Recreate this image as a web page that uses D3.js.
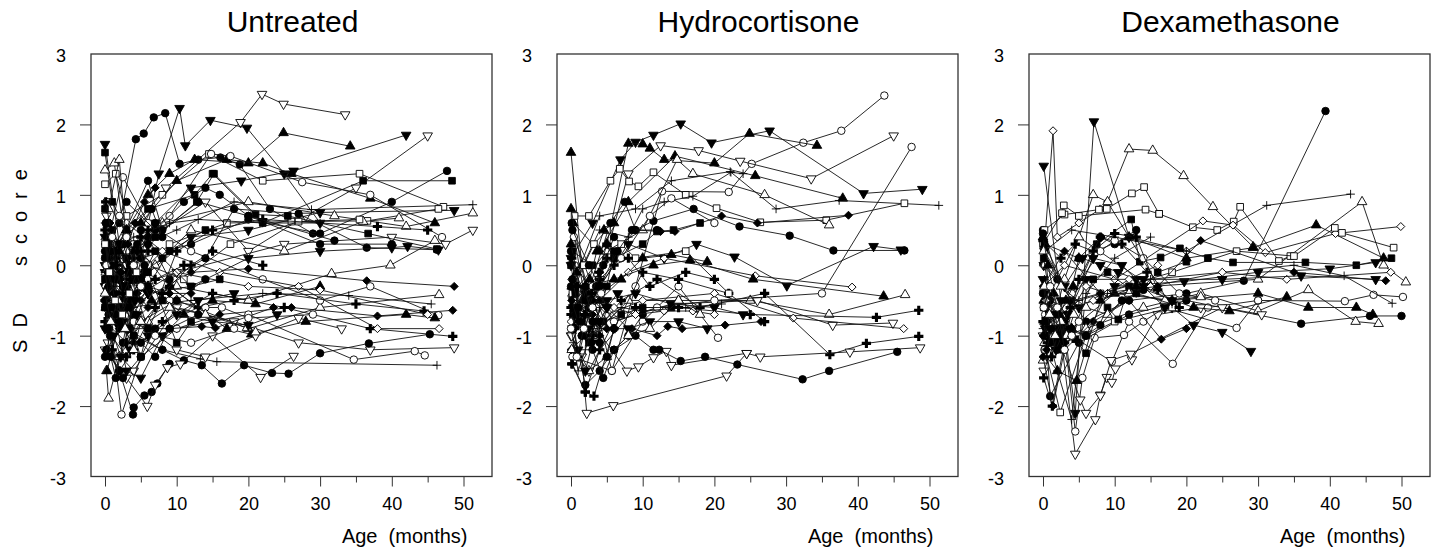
<!DOCTYPE html>
<html>
<head>
<meta charset="utf-8">
<script src="https://cdn.jsdelivr.net/npm/d3@7"></script>
<style>
  body { margin: 0; background: #fff; }
  svg text { font-family: "Liberation Sans", Arial, sans-serif; fill: #000; }
</style>
</head>
<body>
<div id="chart"></div>
<script>
// Titles and tick labels
var panelTitles = ["Untreated", "Hydrocortisone", "Dexamethasone"];
var yTickValues = [3, 2, 1, 0, -1, -2, -3];
var xMajorTicks = [0, 10, 20, 30, 40, 50];
var xMinorTicks = [5, 15, 25, 35, 45];

// One entry per child: marker shape and visits [age (months), SD score]
// shapes: sq/sqf square, ci/cif circle, tu/tuf triangle up, td/tdf triangle down,
//         di/dif diamond, pl thin plus, plb bold plus (f = filled)
var untreated = [
    { shape: "td", pts: [[0.2,-0.3],[3,0.4],[8.5,1.1],[18.9,2.03],[21.9,2.43],[24.9,2.29],[33.5,2.14]] },
    { shape: "tdf", pts: [[0,1.72],[2,0.3],[4,-0.4],[7.5,1.3],[10.4,2.23],[11.2,1.7],[14.7,2.06],[19.8,1.95],[25,1.3],[30,0.6]] },
    { shape: "cif", pts: [[0,0.2],[2,0.6],[4.3,1.79],[5.4,1.87],[6.8,2.1],[8.4,2.16],[10.4,1.44],[13,1.5],[16.1,1.53],[18.8,1.43],[23,0.8],[29,0.45]] },
    { shape: "tuf", pts: [[0.5,0.1],[3,0.5],[6,1.0],[9,1.3],[12.5,1.5],[20,1.45],[24.9,1.88],[34.2,1.69]] },
    { shape: "tdf", pts: [[0,-0.3],[3,0.1],[7,0.6],[12,1.1],[19,1.2],[26.3,1.34],[42,1.85]] },
    { shape: "td", pts: [[0.5,0.4],[4,0.0],[8,0.5],[14,0.9],[20,0.2],[28,0.7],[35,1.1],[45,1.84]] },
    { shape: "sqf", pts: [[0,1.6],[1,0.9],[3,0.5],[6,0.8],[12.5,1.0],[15,1.3],[22,0.6],[36,1.2],[48.4,1.2]] },
    { shape: "cif", pts: [[0.3,-0.4],[5,0.1],[12,0.3],[20,0.65],[30,0.45],[40,0.9],[47.7,1.34]] },
    { shape: "pl", pts: [[0,0.6],[3,0.2],[10,0.5],[18,0.9],[28.8,0.79],[51.3,0.86]] },
    { shape: "tdf", pts: [[0.3,-0.6],[5,-0.2],[12,0.4],[20,0.5],[30,0.75],[48.7,0.78]] },
    { shape: "tu", pts: [[0,1.35],[1.3,1.45],[3,0.2],[8,0.6],[20,0.9],[32,0.7],[42,0.55],[51.3,0.74]] },
    { shape: "td", pts: [[0.2,0.1],[4,-0.3],[10,-0.1],[25,0.3],[40,0.4],[47.5,0.3],[51.3,0.5]] },
    { shape: "sq", pts: [[0,1.15],[1.5,1.3],[3,0.7],[8,1.0],[14.5,1.58],[22,1.2],[35.5,1.3],[47.2,0.83]] },
    { shape: "sq", pts: [[0.5,0.2],[4,-0.2],[9,0.3],[17,0.6],[26,0.62],[36.6,0.63],[46.5,0.8]] },
    { shape: "dif", pts: [[0.3,-0.2],[5,-0.5],[12,-0.1],[20,-0.05],[36.5,-0.22],[48.7,-0.3]] },
    { shape: "dif", pts: [[0,-0.6],[4,-1.1],[10,-0.9],[16,-0.7],[26,-0.6],[38,-0.72],[48.5,-0.64]] },
    { shape: "plb", pts: [[0.2,-0.9],[3,-1.3],[8,-0.8],[15,-0.4],[25,-0.6],[37,-0.9],[48.5,-1.01]] },
    { shape: "td", pts: [[0.4,-1.1],[4,-1.5],[10,-0.6],[18,-0.8],[27,-1.1],[37,-1.2],[48.7,-1.17]] },
    { shape: "pl", pts: [[0,-0.4],[3,-0.9],[8,-1.2],[13.3,-1.33],[15.6,-1.37],[46.3,-1.42]] },
    { shape: "cif", pts: [[0.5,-0.7],[4,-1.0],[8,-1.2],[11,-1.35],[13.5,-1.42],[16.3,-1.68],[19.4,-1.42],[23.3,-1.53],[25.6,-1.54],[30,-1.25],[36.8,-1.11],[45.3,-0.98]] },
    { shape: "ci", pts: [[0.1,-0.3],[2.3,-2.12],[5,-1.3],[10,-0.9],[20,-0.7],[34.7,-1.34],[43.2,-1.22],[44.6,-1.28]] },
    { shape: "cif", pts: [[0.5,-0.9],[2,-1.5],[3.9,-2.12],[4,-2.02],[5.5,-1.85],[6.5,-1.8],[7.3,-1.68],[9,-1.4]] },
    { shape: "td", pts: [[0,-1.2],[3,-1.6],[5.9,-2.0],[7,-1.7],[8.7,-1.45],[10.5,-1.4],[15,-1.0],[21.7,-1.59],[26.3,-1.29]] },
    { shape: "tu", pts: [[0.2,-1.5],[0.5,-1.89],[2,-1.3],[5,-0.8],[10,-0.5],[20,-0.9],[30,-0.6],[46.6,-0.42]] },
    { shape: "tu", pts: [[0.1,0.4],[3,0.0],[10,-0.3],[20,-0.5],[31.6,-0.12],[39.8,0.0],[46,0.35]] },
    { shape: "ci", pts: [[0.3,0.3],[2.5,1.25],[6,0.6],[12,0.2],[22,-0.2],[30,-0.5],[37,-0.3],[46.5,-0.71]] },
    { shape: "di", pts: [[0,0.0],[3,0.6],[8,0.2],[16,-0.1],[27,-0.3],[38,-0.9],[46.6,-0.9]] },
    { shape: "tuf", pts: [[0.4,-0.3],[4,-0.8],[9,-0.3],[17,-0.9],[20.4,-0.98],[28,-0.8],[42,-0.7],[46,-0.75]] },
    { shape: "cif", pts: [[0,-0.5],[2,-0.1],[6,0.4],[9,-0.2],[14,0.1],[18,0.8],[27,0.73],[36.5,0.25],[46.3,0.22]] },
    { shape: "sqf", pts: [[0.2,0.5],[3,0.1],[7,0.4],[12.8,0.9],[15.2,1.3],[21,0.72],[25.5,0.7],[36.7,0.45],[46.3,0.23]] },
    { shape: "tuf", pts: [[0.3,0.2],[5,0.6],[10,1.2],[17,1.5],[22,1.45],[26,1.3],[37,0.95],[46,0.6]] },
    { shape: "ci", pts: [[0.2,0.9],[4,0.3],[9,0.7],[14.8,1.58],[17.5,1.55],[27.5,1.18],[37,1.0],[47,0.4]] },
    { shape: "tdf", pts: [[0,0.0],[6,-0.4],[12,-0.3],[20,0.1],[30,0.2],[40,0.25],[42.2,0.27],[46.5,0.22]] },
    { shape: "tu", pts: [[0.5,0.8],[2,1.5],[3,0.3],[7,0.0],[12,0.5],[25,0.2],[36,0.62],[41,0.67]] },
    { shape: "pl", pts: [[0.1,-0.1],[3,-0.6],[12,-0.5],[22,-0.4],[34,-0.43],[45.5,-0.55]] },
    { shape: "cif", pts: [[0.5,0.4],[3,0.9],[7,0.5],[11,0.9],[14,1.1],[16,1.0],[20,0.7],[30,0.3],[40,0.3]] },
    { shape: "plb", pts: [[0.2,0.3],[2,-0.2],[5,0.2],[9,-0.3],[13,-0.6],[18,-0.5],[24,-0.4],[35,-0.55],[44.5,-0.65]] },
    { shape: "sqf", pts: [[0,0.8],[1,0.5],[3,-0.3],[6,-0.1],[10,-1.1],[12,-0.8]] },
    { shape: "dif", pts: [[0.3,-0.4],[2,-0.9],[6,-0.9],[9,-0.9],[13.5,-0.87],[15.4,-0.89],[23.5,-0.6]] },
    { shape: "tdf", pts: [[0,-0.1],[1.5,-0.8],[3,-1.5],[5,-1.6],[8,-1.0],[13,-0.5],[18,-0.4]] },
    { shape: "ci", pts: [[0.4,-0.6],[4,-0.2],[9,-0.5],[14,-0.6],[16.3,-0.6],[20,-0.75],[29,-0.7]] },
    { shape: "td", pts: [[0.2,0.7],[3,0.0],[6,-0.9],[10,-1.2],[14,-1.3],[21,-1.0],[27,-0.75],[33,-0.9]] },
    { shape: "sq", pts: [[0.4,-0.8],[2.5,-0.3],[6,0.0],[11,-0.2],[17.5,0.3],[27,0.62],[35.5,0.65]] },
    { shape: "plb", pts: [[0,-0.8],[3,-1.1],[7,-0.6],[10,0.2],[15,0.5],[22,0.65],[38,0.55],[45,0.5]] },
    { shape: "cif", pts: [[0.1,0.6],[2,0.3],[6,1.2],[8,0.5],[13,0.9],[20,0.7],[32,0.35]] },
    { shape: "tuf", pts: [[0.3,-1.5],[2,-0.8],[6,-0.3],[11,-0.7],[15,-0.5],[21,-0.55],[30,-0.3]] },
    { shape: "pl", pts: [[0.2,0.1],[4,0.4],[9,0.6],[13,0.65],[22,0.6],[30,0.6]] },
    { shape: "di", pts: [[0.5,0.5],[5,-0.4],[10,-0.1],[20,-0.3],[30,-0.35],[45,-0.7]] },
    { shape: "sqf", pts: [[0.1,-0.2],[2,-0.5],[4,-0.2],[8,0.1],[12,-0.3],[16,-0.2]] },
    { shape: "cif", pts: [[0.2,-1.2],[2.5,-1.6],[5,-1.3],[7,-0.9],[10,-0.5],[14,-0.2]] },
    { shape: "tu", pts: [[0.1,-0.1],[3,-0.5],[6,-0.8],[9,-0.6],[14,-0.7],[19.8,-0.89],[21,-0.95]] },
    { shape: "plb", pts: [[0.3,-1.2],[2,-1.5],[4,-1.2],[8,-0.4],[12,0.0],[15,0.2],[22,0.0]] },
    { shape: "tdf", pts: [[0.5,0.1],[3,-0.5],[6,-1.0],[10,-0.7],[15,-0.8],[20,-0.85],[24,-0.7]] },
    { shape: "ci", pts: [[0.2,0.0],[2,-0.2],[4,-0.8],[7,-1.0],[12,-1.1],[18,-0.9]] },
    { shape: "sqf", pts: [[0,-0.6],[2,-0.9],[4,-0.7],[6,-0.3],[9,0.2],[14,0.5]] },
    { shape: "dif", pts: [[0.1,0.2],[1.5,-0.2],[3.5,-0.5],[6,-0.3],[9,-0.4],[12,-0.4]] },
    { shape: "cif", pts: [[0.4,-0.2],[2,-0.5],[3.5,-0.9],[5,-1.1],[7,-1.3],[9,-0.9],[13,-0.7]] },
    { shape: "plb", pts: [[0,0.5],[1.5,0.2],[3,-0.1],[5,-0.3],[7,-0.2],[11,0.0]] },
    { shape: "cif", pts: [[0,0.1],[0.5,-0.3],[1,-0.6],[1.5,-0.2],[2.5,0.3],[3.5,0.0],[5,0.5],[6.5,0.8],[8,0.4]] },
    { shape: "sqf", pts: [[0,-0.2],[0.5,0.3],[1,0.0],[2,-0.6],[3,-0.9],[4,-0.5],[5.5,-0.1],[7,0.2]] },
    { shape: "plb", pts: [[0,-0.5],[0.5,-0.9],[1,-1.2],[2,-0.8],[3,-0.3],[4,0.1],[5,0.4],[6,0.2]] },
    { shape: "tdf", pts: [[0,0.4],[0.5,0.0],[1.5,-0.4],[2.5,-0.8],[3.5,-1.2],[4.5,-0.7],[6,-0.4]] },
    { shape: "cif", pts: [[0.2,-0.9],[0.8,-1.3],[1.5,-1.6],[2.5,-1.1],[3.5,-0.6],[5,-0.2],[6,0.3],[7,0.6]] },
    { shape: "dif", pts: [[0,0.3],[0.7,0.6],[1.5,0.1],[2.5,-0.3],[3.5,-0.1],[4.5,-0.4],[6,-0.6]] },
    { shape: "tuf", pts: [[0.1,-0.6],[1,-0.2],[2,0.2],[3,0.5],[4,0.2],[5,-0.2],[6.5,-0.5]] },
    { shape: "pl", pts: [[0,-0.1],[0.6,-0.5],[1.2,-0.3],[2,0.1],[3,-0.2],[4,-0.6],[5,-0.3]] },
    { shape: "sqf", pts: [[0.3,0.6],[1,0.2],[2,-0.2],[3,-0.6],[4,-1.0],[5,-1.3],[6,-0.9],[8,-0.5]] },
    { shape: "cif", pts: [[0,-1.3],[0.7,-1.0],[1.5,-0.7],[2.5,-0.3],[3.5,0.0],[4.5,0.3],[5.5,0.0]] },
    { shape: "plb", pts: [[0.1,0.9],[0.8,0.5],[1.6,0.0],[2.5,-0.4],[3.5,-0.2],[4.5,0.2],[6,0.5]] },
    { shape: "tdf", pts: [[0,-0.9],[0.5,-0.6],[1.2,-1.0],[2.2,-1.3],[3.2,-0.9],[4.2,-0.5],[5.5,-0.3]] },
    { shape: "ci", pts: [[0.2,0.0],[1,0.4],[2,0.7],[3,0.4],[4,0.0],[5,-0.3]] },
    { shape: "tu", pts: [[0,-0.4],[0.8,-0.8],[1.8,-0.5],[2.8,-0.9],[4,-1.2],[5,-0.8]] },
    { shape: "dif", pts: [[0.3,-0.1],[1.2,-0.4],[2.2,-0.1],[3.2,0.3],[4.2,0.6],[5.5,0.9],[7,1.1]] },
    { shape: "sq", pts: [[0,0.3],[0.6,-0.1],[1.4,-0.5],[2.4,-0.7],[3.4,-0.4],[4.4,-0.1]] }
];

var hydrocortisone = [
    { shape: "ci", pts: [[0.5,-0.8],[3,-0.4],[5.7,-1.5],[9,-0.3],[12.7,1.05],[22,1.04],[25.2,1.44],[32.4,1.74],[37.7,1.91],[43.7,2.41]] },
    { shape: "td", pts: [[0.3,-0.5],[4,-0.2],[8,1.3],[12.5,1.7],[17.8,1.63],[23.6,1.48],[33.5,1.23],[45,1.84]] },
    { shape: "tdf", pts: [[0,0.1],[3,0.6],[6.9,1.5],[9,1.75],[11.5,1.85],[15.3,2.01],[19.6,1.74],[27.7,1.91],[40.8,1.02],[49,1.08]] },
    { shape: "tuf", pts: [[0,1.6],[1.5,0.0],[3,-0.6],[5,0.3],[8,1.73],[10,1.72],[11,1.66],[13,1.5],[20,1.45],[24.9,1.87],[34.3,1.7]] },
    { shape: "tuf", pts: [[0.3,0.6],[4,0.2],[8,0.9],[14.5,1.55],[25.7,1.27],[37.9,0.95]] },
    { shape: "pl", pts: [[0.2,-0.3],[4,0.7],[9,0.8],[14,1.2],[22.2,1.33],[28.6,0.8],[37.4,0.92],[51.3,0.85]] },
    { shape: "sq", pts: [[0.5,0.7],[2.5,0.7],[5.5,1.2],[6.8,1.37],[8.1,1.19],[9.4,1.12],[11.5,1.32],[16,1.0],[20.3,0.81],[26.4,0.61],[35.6,0.64],[46.5,0.88]] },
    { shape: "cif", pts: [[0.1,0.6],[2,-0.5],[5.5,0.6],[7.5,0.9],[9,0.5],[11.5,0.63],[17.1,0.8],[23.5,0.55],[30.5,0.42],[36.6,0.21],[46.5,0.21]] },
    { shape: "tdf", pts: [[0.5,-0.9],[4,-0.3],[8,0.3],[13,0.1],[17.5,0.3],[22.8,0.12],[30.1,-0.29],[42.2,0.27],[46,0.22]] },
    { shape: "tu", pts: [[0.2,-0.4],[5,0.2],[10,0.5],[14.8,1.5],[17,1.3],[27,1.0],[36,0.57]] },
    { shape: "dif", pts: [[0.3,-0.6],[4,-0.1],[9,0.5],[12.5,0.48],[14.5,0.48],[21,0.7],[26,0.6],[38.7,0.71]] },
    { shape: "di", pts: [[0.1,-0.2],[3,-0.5],[8,-0.1],[13,0.1],[25.7,-0.15],[39.2,-0.31]] },
    { shape: "tuf", pts: [[0,0.8],[2,-0.3],[6,-0.2],[11.5,0.0],[16.6,0.07],[25.4,-0.2],[43.6,-0.44]] },
    { shape: "tu", pts: [[0.4,-0.7],[3,-1.0],[8,-0.5],[15,-0.5],[25,-0.5],[36,-0.7],[46.6,-0.42]] },
    { shape: "plb", pts: [[0.2,-1.4],[2,-1.8],[4,-1.2],[9,-0.6],[15,-0.6],[25,-0.7],[42.6,-0.74],[48.5,-0.64]] },
    { shape: "td", pts: [[0,-1.0],[2.5,-1.5],[6,-0.8],[14,-0.55],[26,-0.5],[36.5,-0.85],[44.9,-0.82]] },
    { shape: "di", pts: [[0.3,-0.2],[5,-0.7],[10,-0.5],[20,-0.4],[31,-0.75],[46.4,-0.9]] },
    { shape: "plb", pts: [[0,-0.7],[3,-1.0],[7,-0.5],[12,-0.2],[18,-0.6],[27,-0.4],[36.1,-1.27],[41.2,-1.11],[48.5,-1.01]] },
    { shape: "td", pts: [[0.4,-0.5],[3.5,-0.9],[7.8,-1.5],[9.4,-1.44],[11.5,-1.31],[13.3,-1.22],[14,-1.42],[24.5,-1.25],[26.4,-1.3],[38.9,-1.23],[48.7,-1.17]] },
    { shape: "cif", pts: [[0.3,-0.9],[2,-1.7],[4,-1.5],[6,-1.2],[9,-1.0],[11.5,-1.2],[12.3,-1.2],[15.3,-1.36],[18.7,-1.3],[23.2,-1.41],[32.3,-1.62],[36,-1.5],[45.5,-1.23]] },
    { shape: "td", pts: [[0.1,-1.0],[1.5,-1.3],[2.2,-2.1],[5.9,-1.99],[21.7,-1.57],[24.5,-1.25]] },
    { shape: "ci", pts: [[0.2,-1.3],[5.7,-1.5],[10,-0.8],[15,-0.3],[20.5,-1.03]] },
    { shape: "ci", pts: [[0.5,0.0],[6,-0.8],[12,-0.6],[20,-0.5],[35,-0.4],[47.5,1.68]] },
    { shape: "plb", pts: [[0.1,-1.4],[2,-1.8],[3.2,-1.86],[6,-0.9],[10,-0.1],[15,-0.2],[22,-0.4],[27,-0.8]] },
    { shape: "pl", pts: [[0.3,-0.3],[4,0.5],[8,0.4],[10,0.8],[13,0.9],[17,0.98],[22.3,1.32],[24,1.3]] },
    { shape: "sqf", pts: [[0.2,0.2],[3,0.0],[6,0.1],[10,0.3],[12,0.48],[14.3,0.5],[18,0.6]] },
    { shape: "ci", pts: [[0.4,0.4],[3,-0.3],[7,0.1],[11,0.7],[14,0.95],[20,0.6]] },
    { shape: "dif", pts: [[0,-1.2],[2,-1.0],[5,-0.9],[8.5,-0.9],[12,-1.0],[13.5,-0.87],[15.5,-0.9],[21.5,-0.85],[26.5,-0.8]] },
    { shape: "tdf", pts: [[0.3,-0.6],[2.5,-0.9],[5,-0.5],[9,-0.4],[14,-0.55],[20,-0.6],[24,-0.7]] },
    { shape: "cif", pts: [[0,0.2],[1.5,-1.0],[3,-1.2],[4.5,-1.6],[6,-1.2],[8,-1.0],[10,-0.7]] },
    { shape: "sq", pts: [[0.2,-0.4],[1.8,0.0],[3.2,0.3],[5,0.5],[7,0.3],[9,0.1],[16,0.2],[22,-0.4]] },
    { shape: "plb", pts: [[0.4,-0.8],[2.5,-0.6],[4,-0.3],[6,0.0],[8,0.1],[11,-0.3],[16,-0.1],[20,-0.2]] },
    { shape: "tuf", pts: [[0.1,-0.3],[2,-0.7],[4,-0.5],[7,-0.2],[10,0.1],[14,0.15],[19,0.05]] },
    { shape: "cif", pts: [[0.2,0.5],[2.5,0.0],[4,-0.3],[6.5,0.2],[8.5,0.5],[12,0.5]] },
    { shape: "di", pts: [[0,-0.8],[3,-0.4],[6,-0.6],[9,-0.7],[13,-0.65],[17,-0.65],[20,-0.7]] },
    { shape: "pl", pts: [[0.3,-0.5],[2,-0.7],[4,-0.9],[7,-0.6],[10,-0.65],[16,-0.6],[21,-0.55]] },
    { shape: "tdf", pts: [[0,0.0],[2,-0.4],[5,-0.6],[8,-0.9],[11,-0.8],[15,-0.8],[19,-0.9]] },
    { shape: "sqf", pts: [[0.5,-0.3],[2.5,-0.5],[4.5,-0.8],[7,-0.7],[10,-0.6],[14,-0.6]] },
    { shape: "tu", pts: [[0.1,-1.2],[2.5,-1.5],[5,-1.3],[8,-1.0],[11,-0.9],[15,-0.5],[18,-0.7]] },
    { shape: "plb", pts: [[0,-0.6],[0.5,-0.9],[1,-1.3],[2,-0.9],[3,-0.5],[4,-0.2],[5,0.1]] },
    { shape: "cif", pts: [[0,-0.3],[0.7,-0.7],[1.5,-1.0],[2.5,-0.6],[3.5,-0.3],[4.5,0.0],[6,0.4]] },
    { shape: "tdf", pts: [[0.2,-0.9],[1,-1.2],[2,-1.5],[3,-1.1],[4,-0.8],[5,-0.6],[6.5,-0.4]] },
    { shape: "sqf", pts: [[0,0.0],[0.6,-0.4],[1.5,-0.8],[2.5,-1.1],[3.5,-0.8],[5,-0.3],[6,0.2]] },
    { shape: "dif", pts: [[0.1,-0.5],[1,-0.8],[2,-0.4],[3,-0.7],[4,-1.0],[5,-0.6]] },
    { shape: "tuf", pts: [[0,0.3],[0.8,-0.1],[1.6,-0.5],[2.6,-0.2],[3.6,0.2],[4.6,0.5],[6,0.6]] },
    { shape: "pl", pts: [[0.3,-1.1],[1,-1.5],[2,-1.2],[3,-0.9],[4,-0.6],[5,-0.9]] },
    { shape: "cif", pts: [[0.2,-0.2],[1,-0.6],[2,-0.3],[3,-0.8],[4,-1.1],[5,-1.3],[6,-0.9]] },
    { shape: "ci", pts: [[0,-0.9],[0.8,-1.3],[1.8,-0.9],[3,-0.6],[4.2,-0.4]] },
    { shape: "plb", pts: [[0.1,0.1],[0.9,-0.3],[1.9,-0.7],[2.9,-0.4],[3.9,-0.1],[5,0.3]] }
];

var dexamethasone = [
    { shape: "cif", pts: [[0,0.5],[2,-0.2],[6,-0.8],[12,-0.5],[20,-0.4],[28,-0.22],[39.4,2.19]] },
    { shape: "tdf", pts: [[0.1,1.41],[2.5,-0.5],[4.5,-2.1],[7.1,2.04],[12,0.4],[18,-0.6],[21,-0.85],[25,-0.95],[29,-1.22]] },
    { shape: "di", pts: [[0,0.0],[1.4,1.91],[2,0.4],[5,0.6],[8,0.8],[9,0.9],[12,0.4],[20,0.2]] },
    { shape: "tu", pts: [[0,-1.35],[3,-0.2],[7,1.0],[9,0.9],[12,1.65],[15.3,1.63],[19.6,1.27],[23.7,0.83],[29.3,0.26]] },
    { shape: "tu", pts: [[0.5,-0.5],[5,0.4],[15,-0.3],[30,-0.2],[44.5,0.9],[47.5,0.0],[50.6,-0.24]] },
    { shape: "sq", pts: [[0.2,0.5],[3,0.72],[7.8,0.79],[8.9,0.8],[12.4,1.02],[14.1,1.11],[16.2,0.73],[20.9,0.54],[24.3,0.5],[26.6,0.62],[27.5,0.83],[32.9,0.06],[34.5,0.13]] },
    { shape: "sq", pts: [[0,0.3],[2.65,0.74],[2.9,0.85],[5,0.7],[14.3,0.79],[16.2,0.73]] },
    { shape: "pl", pts: [[0.2,0.2],[4,0.5],[10,0.4],[20,0.2],[31.2,0.85],[42.9,1.01]] },
    { shape: "tuf", pts: [[0.3,0.3],[5,0.1],[12,0.4],[20,0.1],[29.3,0.25],[38.1,0.57],[47.5,0.1]] },
    { shape: "di", pts: [[0.1,-0.3],[3,0.0],[10,-0.2],[22.3,0.63],[26.5,0.57],[31,0.18],[40.8,0.45],[49.9,0.55]] },
    { shape: "sq", pts: [[0.4,-0.6],[8,-0.4],[18,-0.1],[27,0.2],[35,0.13],[40.7,0.53],[41.7,0.46],[48.9,0.25]] },
    { shape: "sqf", pts: [[0.2,0.3],[4,-0.5],[7.5,0.3],[12.3,0.65],[13.5,0.05],[16.4,0.11],[19.1,0.24],[23,0.1],[26.5,0.04],[36.6,0.04],[43.7,0.0],[48.6,0.1]] },
    { shape: "tdf", pts: [[0.1,0.0],[5,-0.6],[10,-0.3],[19.7,-0.23],[30,-0.1],[40,-0.05],[46.4,0.04]] },
    { shape: "ci", pts: [[0.3,-0.7],[4,-1.0],[9.6,-1.37],[12,-0.8],[18.1,-1.4],[23,-0.6],[30,-0.5],[42.1,-0.51],[46.1,-0.42],[50.2,-0.45]] },
    { shape: "pl", pts: [[0,-0.9],[5,-0.5],[15,-0.2],[25,-0.1],[35,0.0],[42,-0.15],[48.7,-0.54]] },
    { shape: "cif", pts: [[0.5,-1.1],[1,-1.86],[5,-1.1],[12,-0.7],[20,-0.5],[36,-0.83],[45.6,-0.72],[50,-0.72]] },
    { shape: "tu", pts: [[0.2,-1.1],[6,-0.9],[14,-0.6],[22,-0.4],[30,-0.65],[37,-0.35],[43.6,-0.8],[46.8,-0.83]] },
    { shape: "tuf", pts: [[0.1,-0.5],[4,-0.9],[10,-0.4],[18,-0.5],[30,-0.4],[37,-0.6],[43.7,-0.6],[46,-0.7]] },
    { shape: "di", pts: [[0.4,-0.8],[7,-0.5],[15,-0.3],[25,-0.1],[34,-0.2],[48.5,-0.1]] },
    { shape: "dif", pts: [[0,-0.3],[3,0.2],[8,-0.4],[16,-0.3],[22,0.35],[35,-0.1],[47.8,-0.22]] },
    { shape: "tdf", pts: [[0.3,-0.9],[6,-0.2],[14,-0.2],[25,-0.2],[36,-0.15],[46.4,-0.2]] },
    { shape: "td", pts: [[0,-1.0],[2,-0.6],[4.5,-2.68],[7.3,-2.19],[8,-1.84],[8.9,-1.59],[9.6,-1.66],[10.1,-1.47],[12.4,-1.34],[16,-0.7],[22,-0.6]] },
    { shape: "ci", pts: [[0.2,-1.2],[3,-1.0],[4.5,-2.36],[5.5,-1.6],[7.2,-1.03],[11.3,-0.99],[14,-0.8],[17,-0.6],[27,-0.89],[30,-0.5]] },
    { shape: "td", pts: [[0.1,-1.5],[2,-1.0],[5.2,-1.91],[6,-2.1],[8,-1.85],[9.5,-1.35],[12.2,-1.26],[25,-0.6],[30.5,-0.7]] },
    { shape: "sq", pts: [[0.3,-1.2],[2.4,-2.09],[6,-1.0],[10,-0.8],[18,-0.6]] },
    { shape: "dif", pts: [[0,-1.3],[1.4,-2.0],[3,-1.2],[7,-0.8],[12,-0.5],[16.5,-1.05],[20,-0.9]] },
    { shape: "pl", pts: [[0.5,-1.3],[2,-1.5],[4,-2.19],[6,-0.4],[10,0.1],[15,0.4]] },
    { shape: "tuf", pts: [[0.2,-0.8],[2,-1.5],[4.7,-1.64],[8,-0.5],[13,-0.3],[21,-0.6],[26,-0.65],[34,-0.45]] },
    { shape: "plb", pts: [[0.1,-1.6],[1.3,-2.0],[3,-1.1],[5,-0.2],[8,0.4],[11,0.3],[14.5,-0.1]] },
    { shape: "sqf", pts: [[0.4,-1.0],[2,-1.1],[4.5,-1.05],[6,-1.25],[9,-0.6],[10.5,-0.77],[12,-0.3]] },
    { shape: "cif", pts: [[0,0.45],[1,-0.5],[2.5,-1.0],[5,0.1],[8,0.4],[10,0.3],[13,0.5]] },
    { shape: "ci", pts: [[0.3,0.0],[4,-0.4],[8,0.2],[10,0.35],[14,0.1],[19,-0.4],[24,-0.5]] },
    { shape: "tdf", pts: [[0.2,0.2],[3,-0.3],[5.5,0.1],[8,0.0],[10.5,-0.1],[13,-0.2],[17,-0.6]] },
    { shape: "plb", pts: [[0,0.35],[2.5,0.1],[4.5,0.3],[7,0.2],[10,0.45],[13,0.4],[16,-0.35],[19,-0.6]] },
    { shape: "di", pts: [[0.4,-0.5],[3,-0.8],[6,-0.3],[9,-0.4],[12,-0.2],[16,0.0]] },
    { shape: "tu", pts: [[0.1,0.2],[2.5,-0.3],[6,-0.6],[9,-0.7],[12,-0.4],[17,-0.5],[22,-0.45]] },
    { shape: "pl", pts: [[0.2,-0.2],[3,-0.9],[6,-1.0],[9,-0.4],[13,-0.4],[18,-0.55]] },
    { shape: "cif", pts: [[0.3,-1.0],[2,-1.2],[4,-0.9],[6,-1.0],[8,-0.85],[11,-0.5],[14,-0.35]] },
    { shape: "sqf", pts: [[0.1,-0.6],[2.5,-0.9],[4,-1.0],[7,-0.2],[9,-0.1],[13,-0.4],[16,-0.1],[20,0.05]] },
    { shape: "tdf", pts: [[0.2,-0.4],[3.5,-0.7],[7,0.1],[11,0.0],[14,-0.3],[18,-0.5]] },
    { shape: "cif", pts: [[0,-0.4],[0.5,-0.8],[1,-1.1],[1.6,-0.9],[2.3,-1.1],[3,-0.8]] },
    { shape: "tdf", pts: [[0,-0.2],[0.4,-0.6],[1,-0.9],[1.8,-1.2],[2.6,-1.0],[3.5,-0.7]] },
    { shape: "sqf", pts: [[0.1,0.1],[0.7,-0.3],[1.3,-0.7],[2,-1.0],[2.8,-1.2],[3.6,-0.9]] },
    { shape: "plb", pts: [[0,-0.8],[0.6,-1.1],[1.2,-1.3],[2,-1.0],[2.8,-0.8],[3.8,-0.6]] },
    { shape: "tu", pts: [[0.2,-0.3],[0.9,-0.7],[1.7,-1.0],[2.5,-0.8],[3.3,-1.0],[4.3,-0.7]] },
    { shape: "dif", pts: [[0,-1.0],[0.5,-1.2],[1.2,-0.9],[2,-0.7],[3,-1.1],[4,-0.9]] },
    { shape: "tuf", pts: [[0,0.4],[0.7,0.0],[1.5,-0.4],[2.3,-0.7],[3.2,-0.5],[4.2,-0.3]] },
    { shape: "ci", pts: [[0.1,-0.6],[1,-0.3],[2,-0.6],[3,-1.2],[4,-1.0],[5,-0.8]] }
];

var panelData = [untreated, hydrocortisone, dexamethasone];

// Layout
var width = 1437, height = 548;
var panelLeft = [91, 557, 1029];
var panelWidth = 401;
var plotTop = 54, plotBottom = 476.5;

var svg = d3.select("#chart")
    .append("svg")
    .attr("width", width)
    .attr("height", height);

// Marker generator for each shape code
function markerPath(shape) {
    var base = shape === "plb" ? "plb" : shape.replace("f", "");
    var sym = d3.symbol();
    if (base === "sq") sym.type(d3.symbolSquare).size(44);
    else if (base === "ci") sym.type(d3.symbolCircle).size(44);
    else if (base === "tu" || base === "td") sym.type(d3.symbolTriangle).size(40);
    else if (base === "di") sym.type(d3.symbolSquare).size(32);
    else if (base === "pl") sym.type(d3.symbolPlus || d3.symbolCross).size(26);
    else sym.type(d3.symbolCross).size(48);
    return sym();
}
function markerRotation(shape) {
    if (shape === "td" || shape === "tdf") return " rotate(180)";
    if (shape === "di" || shape === "dif") return " rotate(45)";
    return "";
}
function isFilled(shape) {
    return shape.slice(-1) === "f" || shape === "plb";
}

panelData.forEach(function (subjects, i) {
    var left = panelLeft[i];

    var x = d3.scaleLinear()
        .domain([0, 50])
        .range([left + 14, left + 372.5]);
    var y = d3.scaleLinear()
        .domain([-3, 3])
        .range([plotBottom, plotTop]);

    var g = svg.append("g");

    // Title
    g.append("text")
        .attr("x", left + panelWidth / 2 + 1)
        .attr("y", 32)
        .attr("text-anchor", "middle")
        .style("font-size", "30px")
        .text(panelTitles[i]);

    // Y axis (no tick marks at +-3)
    var yAxis = g.append("g")
        .attr("transform", "translate(" + left + ",0)")
        .call(d3.axisLeft(y)
            .tickValues(yTickValues)
            .tickFormat(function (d) { return String(d); })
            .tickSize(11)
            .tickPadding(14));
    yAxis.select(".domain").remove();
    yAxis.selectAll(".tick line")
        .attr("stroke", "#333")
        .style("display", function (d) { return Math.abs(d) === 3 ? "none" : null; });
    yAxis.selectAll(".tick text")
        .attr("dy", "0.42em")
        .style("font-size", "18px")
        .style("font-family", "Liberation Sans, Arial, sans-serif")
        .attr("fill", "#000");

    // X axis: major ticks with labels, minor ticks without
    var xAxis = g.append("g")
        .attr("transform", "translate(0," + plotBottom + ")")
        .call(d3.axisBottom(x).tickValues(xMajorTicks).tickSize(10).tickPadding(11));
    xAxis.select(".domain").remove();
    xAxis.selectAll(".tick line").attr("stroke", "#333");
    xAxis.selectAll(".tick text")
        .style("font-size", "18px")
        .style("font-family", "Liberation Sans, Arial, sans-serif")
        .attr("fill", "#000");

    var xMinor = g.append("g")
        .attr("transform", "translate(0," + plotBottom + ")")
        .call(d3.axisBottom(x).tickValues(xMinorTicks).tickSize(6).tickFormat(""));
    xMinor.select(".domain").remove();
    xMinor.selectAll(".tick line").attr("stroke", "#333");

    // X axis title
    g.append("text")
        .attr("x", x(50) + 4)
        .attr("y", 543)
        .attr("text-anchor", "end")
        .attr("xml:space", "preserve")
        .style("white-space", "pre")
        .style("font-size", "20px")
        .text("Age  (months)");

    // Trajectories: line then markers, child by child
    var line = d3.line()
        .x(function (d) { return x(d[0]); })
        .y(function (d) { return y(d[1]); });

    subjects.forEach(function (s) {
        g.append("path")
            .datum(s.pts)
            .attr("d", line)
            .attr("fill", "none")
            .attr("stroke", "#111")
            .attr("stroke-width", 0.9);

        g.selectAll(null)
            .data(s.pts)
            .enter()
            .append("path")
            .attr("d", markerPath(s.shape))
            .attr("transform", function (d) {
                return "translate(" + x(d[0]) + "," + y(d[1]) + ")" + markerRotation(s.shape);
            })
            .attr("fill", isFilled(s.shape) ? "#000" : "#fff")
            .attr("stroke", "#000")
            .attr("stroke-width", s.shape === "plb" ? 0 : 0.9);
    });

    // Plot frame
    g.append("rect")
        .attr("x", left)
        .attr("y", plotTop)
        .attr("width", panelWidth)
        .attr("height", plotBottom - plotTop)
        .attr("fill", "none")
        .attr("stroke", "#333")
        .attr("stroke-width", 1.3);
});

// Shared y axis title
svg.append("text")
    .attr("transform", "translate(27,255) rotate(-90)")
    .attr("text-anchor", "middle")
    .attr("xml:space", "preserve")
    .style("white-space", "pre")
    .style("letter-spacing", "12px")
    .style("font-size", "20px")
    .text("SD  score");
</script>
</body>
</html>
